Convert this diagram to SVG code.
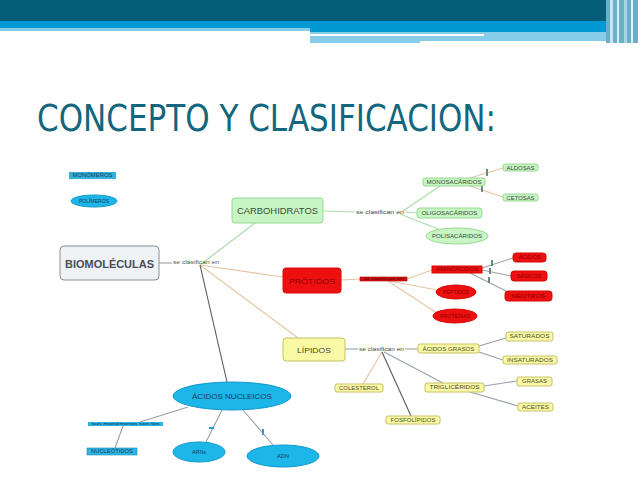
<svg xmlns="http://www.w3.org/2000/svg" width="638" height="479" viewBox="0 0 638 479">
<style>
.t{font-family:"Liberation Sans",Arial,sans-serif;text-anchor:middle;dominant-baseline:central}
.g{fill:#c8f5c4;stroke:#98d894;stroke-width:1}
.r{fill:#ee1010;stroke:#d80808;stroke-width:1}
.y{fill:#fafaa6;stroke:#c6c266;stroke-width:1}
.b{fill:#1cb6e8;stroke:#1599cc;stroke-width:1}
.tg{fill:#3a4a3a}
.tr{fill:#8a0000}
.ty{fill:#4a4a2a}
.tb{fill:#1a3a5a}
.lg{stroke:#acdca8;stroke-width:1.2;fill:none}
.lt{stroke:#e6c6a6;stroke-width:1.2;fill:none}
.lk{stroke:#9aa0a8;stroke-width:1.1;fill:none}
.ld{stroke:#555a60;stroke-width:1.1;fill:none}
.mk{fill:#6c8a80}
.mb{fill:#2a9ad0}
</style>
<rect width="638" height="479" fill="#ffffff"/>
<g id="header">
<rect x="0" y="0" width="638" height="21" fill="#045e78"/>
<rect x="0" y="21" width="638" height="7" fill="#0099d4"/>
<rect x="0" y="28" width="310" height="3" fill="#84cce8"/>
<rect x="310" y="28" width="300" height="4" fill="#0099d4"/>
<rect x="310" y="32" width="300" height="11" fill="#86cde9"/>
<rect x="310" y="34" width="174" height="2" fill="#ffffff"/>
<rect x="420" y="41" width="190" height="2" fill="#ffffff"/>
<rect x="606" y="0" width="32" height="43" fill="#6aaec8"/>
<rect x="610" y="0" width="3" height="43" fill="#c8e4f0"/>
<rect x="617" y="0" width="2" height="43" fill="#d8eef6"/>
<rect x="624" y="0" width="3" height="43" fill="#a8d4e8"/>
<rect x="631" y="0" width="2" height="43" fill="#e0f0f8"/>
</g>
<text x="37" y="131" font-family="'DejaVu Sans Condensed','Liberation Sans',sans-serif" font-size="38" fill="#13667e" textLength="459" lengthAdjust="spacingAndGlyphs">CONCEPTO Y CLASIFICACION:</text>

<g id="connectors">
<!-- main -->
<line class="lk" x1="159" y1="263" x2="172" y2="263"/>
<line class="lg" x1="200" y1="265" x2="255" y2="223"/>
<line class="lt" x1="200" y1="265" x2="283" y2="277"/>
<line class="lt" x1="200" y1="265" x2="298" y2="338"/>
<line class="ld" x1="200" y1="265" x2="227" y2="382"/>
<!-- carbohidratos -->
<line class="lg" x1="323" y1="211" x2="355" y2="212"/>
<line class="lg" x1="403" y1="211" x2="440" y2="186"/>
<line class="lg" x1="405" y1="212" x2="417" y2="213"/>
<line class="lg" x1="400" y1="214" x2="438" y2="229"/>
<line class="lt" x1="470" y1="178" x2="503" y2="168"/>
<line class="lt" x1="470" y1="186" x2="503" y2="197"/>
<rect class="mk" x="486" y="169" width="2" height="7"/>
<rect class="mk" x="481" y="185" width="2" height="7"/>
<!-- protidos -->
<line class="lt" x1="341" y1="280" x2="360" y2="279"/>
<line class="lt" x1="407" y1="279" x2="432" y2="270"/>
<line class="lt" x1="390" y1="281" x2="437" y2="290"/>
<line class="lt" x1="388" y1="281" x2="437" y2="313"/>
<line class="lk" x1="482" y1="268" x2="513" y2="258"/>
<line class="lk" x1="482" y1="270" x2="511" y2="276"/>
<line class="lk" x1="470" y1="273" x2="508" y2="292"/>
<rect class="mk" x="491" y="260" width="2" height="6"/>
<rect class="mk" x="489" y="268" width="2" height="6"/>
<rect class="mk" x="488" y="277" width="2" height="6"/>
<!-- lipidos -->
<line class="lk" x1="345" y1="349" x2="358" y2="349"/>
<line class="lk" x1="405" y1="349" x2="418" y2="349"/>
<line class="lt" x1="382" y1="352" x2="363" y2="384"/>
<line class="ld" x1="382" y1="352" x2="411" y2="416"/>
<line class="lk" x1="384" y1="352" x2="443" y2="383"/>
<line class="lk" x1="479" y1="346" x2="506" y2="338"/>
<line class="lk" x1="479" y1="352" x2="503" y2="360"/>
<line class="lk" x1="484" y1="386" x2="517" y2="381"/>
<line class="lk" x1="470" y1="392" x2="518" y2="406"/>
<!-- acidos nucleicos -->
<line class="lk" x1="188" y1="407" x2="140" y2="422"/>
<line class="lk" x1="123" y1="426" x2="115" y2="448"/>
<line class="lk" x1="222" y1="410" x2="206" y2="442"/>
<line class="lk" x1="243" y1="410" x2="273" y2="445"/>
<rect class="mb" x="209" y="427" width="5" height="2"/>
<rect class="mb" x="262" y="429" width="2" height="6"/>
</g>

<g id="monomeros"><rect x="69" y="172" width="47" height="7" fill="#32b2da"/><text class="t tb" x="92.5" y="175.5" font-size="4.5" textLength="40" lengthAdjust="spacingAndGlyphs">MONÓMEROS</text></g>
<g id="polimeros"><ellipse class="b" cx="94" cy="201" rx="23" ry="6"/><text class="t tb" x="94" y="201" font-size="4.5" textLength="30" lengthAdjust="spacingAndGlyphs">POLÍMEROS</text></g>

<g id="biomoleculas"><rect x="60" y="246" width="99" height="34" rx="4" fill="#eef2f5" stroke="#8a9096" stroke-width="1"/><text class="t" x="109.5" y="263.5" font-size="11" font-weight="bold" fill="#4a4e52" textLength="89" lengthAdjust="spacingAndGlyphs">BIOMOLÉCULAS</text></g>
<g id="lbl-main"><text class="t" x="196" y="262" font-size="5.5" fill="#555" textLength="46" lengthAdjust="spacingAndGlyphs">se clasifican en</text></g>

<g id="carbohidratos"><rect class="g" x="232" y="198" width="91" height="25" rx="3"/><text class="t tg" x="277.5" y="211" font-size="9" textLength="81" lengthAdjust="spacingAndGlyphs">CARBOHIDRATOS</text></g>
<g id="lbl-carbo"><text class="t tg" x="380" y="212" font-size="5.5" textLength="48" lengthAdjust="spacingAndGlyphs">se clasifican en</text></g>
<g id="monosacaridos"><rect class="g" x="423" y="178" width="62" height="8" rx="2"/><text class="t tg" x="454" y="182.3" font-size="5" textLength="55" lengthAdjust="spacingAndGlyphs">MONOSACÁRIDOS</text></g>
<g id="oligosacaridos"><rect class="g" x="417" y="208" width="65" height="10" rx="3"/><text class="t tg" x="449.5" y="213.3" font-size="5" textLength="56" lengthAdjust="spacingAndGlyphs">OLIGOSACÁRIDOS</text></g>
<g id="polisacaridos"><ellipse class="g" cx="457" cy="236" rx="31" ry="8"/><text class="t tg" x="457" y="236.3" font-size="5" textLength="50" lengthAdjust="spacingAndGlyphs">POLISACÁRIDOS</text></g>
<g id="aldosas"><rect class="g" x="503" y="164" width="35" height="7" rx="2"/><text class="t tg" x="520.5" y="167.8" font-size="5" textLength="28" lengthAdjust="spacingAndGlyphs">ALDOSAS</text></g>
<g id="cetosas"><rect class="g" x="503" y="194" width="35" height="7" rx="2"/><text class="t tg" x="520.5" y="197.8" font-size="5" textLength="28" lengthAdjust="spacingAndGlyphs">CETOSAS</text></g>

<g id="protidos"><rect class="r" x="283" y="268" width="58" height="25" rx="3"/><text class="t tr" x="312" y="281" font-size="8" textLength="46" lengthAdjust="spacingAndGlyphs">PRÓTIDOS</text></g>
<g id="lbl-prot"><rect x="360" y="277" width="47" height="4" fill="#d81010" stroke="#a40000" stroke-width="0.6"/><text class="t" x="383.5" y="279.2" font-size="3.5" fill="#4a0000" textLength="40" lengthAdjust="spacingAndGlyphs">se clasifican en</text></g>
<g id="aminoacidos"><rect class="r" x="432" y="266" width="50" height="7"/><text class="t tr" x="457" y="269.7" font-size="4.5" textLength="42" lengthAdjust="spacingAndGlyphs">AMINOÁCIDOS</text></g>
<g id="peptidos"><ellipse class="r" cx="456" cy="292" rx="20" ry="7"/><text class="t tr" x="456" y="292.3" font-size="4.5" textLength="26" lengthAdjust="spacingAndGlyphs">PÉPTIDOS</text></g>
<g id="proteinas"><ellipse class="r" cx="455" cy="316" rx="22" ry="7"/><text class="t tr" x="455" y="316.3" font-size="4.5" textLength="30" lengthAdjust="spacingAndGlyphs">PROTEÍNAS</text></g>
<g id="acidos"><rect class="r" x="513" y="253" width="33" height="9" rx="3"/><text class="t tr" x="529.5" y="257.8" font-size="4.5" textLength="22" lengthAdjust="spacingAndGlyphs">ÁCIDOS</text></g>
<g id="basicos"><rect class="r" x="511" y="271" width="36" height="10" rx="3"/><text class="t tr" x="529" y="276.3" font-size="4.5" textLength="24" lengthAdjust="spacingAndGlyphs">BÁSICOS</text></g>
<g id="neutros"><rect class="r" x="505" y="291" width="47" height="10" rx="3"/><text class="t tr" x="528.5" y="296.3" font-size="4.5" textLength="34" lengthAdjust="spacingAndGlyphs">NEUTROS</text></g>

<g id="lipidos"><rect class="y" x="283" y="338" width="62" height="23" rx="3"/><text class="t ty" x="314" y="350" font-size="8" textLength="34" lengthAdjust="spacingAndGlyphs">LÍPIDOS</text></g>
<g id="lbl-lip"><text class="t ty" x="381.5" y="349.3" font-size="5" textLength="45" lengthAdjust="spacingAndGlyphs">se clasifican en</text></g>
<g id="acidosgrasos"><rect class="y" x="418" y="344" width="61" height="9" rx="2"/><text class="t ty" x="448.5" y="348.8" font-size="5" textLength="52" lengthAdjust="spacingAndGlyphs">ÁCIDOS GRASOS</text></g>
<g id="saturados"><rect class="y" x="506" y="332" width="47" height="9" rx="2"/><text class="t ty" x="529.5" y="336.8" font-size="4.5" textLength="40" lengthAdjust="spacingAndGlyphs">SATURADOS</text></g>
<g id="insaturados"><rect class="y" x="503" y="356" width="54" height="8" rx="2"/><text class="t ty" x="530" y="360.3" font-size="4.5" textLength="46" lengthAdjust="spacingAndGlyphs">INSATURADOS</text></g>
<g id="colesterol"><rect class="y" x="335" y="384" width="48" height="8" rx="2"/><text class="t ty" x="359" y="388.3" font-size="4.5" textLength="40" lengthAdjust="spacingAndGlyphs">COLESTEROL</text></g>
<g id="trigliceridos"><rect class="y" x="425" y="383" width="59" height="9" rx="2"/><text class="t ty" x="454.5" y="387.8" font-size="4.5" textLength="50" lengthAdjust="spacingAndGlyphs">TRIGLICÉRIDOS</text></g>
<g id="grasas"><rect class="y" x="517" y="377" width="35" height="9" rx="2"/><text class="t ty" x="534.5" y="381.8" font-size="4.5" textLength="25" lengthAdjust="spacingAndGlyphs">GRASAS</text></g>
<g id="aceites"><rect class="y" x="518" y="403" width="35" height="8" rx="2"/><text class="t ty" x="535.5" y="407.3" font-size="4.5" textLength="27" lengthAdjust="spacingAndGlyphs">ACEITES</text></g>
<g id="fosfolipidos"><rect class="y" x="386" y="416" width="54" height="8" rx="2"/><text class="t ty" x="413" y="420.3" font-size="4.5" textLength="45" lengthAdjust="spacingAndGlyphs">FOSFOLÍPIDOS</text></g>

<g id="acidosnucleicos"><ellipse class="b" cx="232" cy="396" rx="59" ry="14"/><text class="t tb" x="232" y="396.5" font-size="7.5" textLength="80" lengthAdjust="spacingAndGlyphs">ÁCIDOS NUCLEICOS</text></g>
<g id="lbl-nuc"><rect x="88" y="422" width="75" height="4" fill="#2eb4e2"/><text class="t" x="125.5" y="424.2" font-size="3.5" fill="#103050" textLength="68" lengthAdjust="spacingAndGlyphs">sus monómeros son los</text></g>
<g id="nucleotidos"><rect x="87" y="448" width="50" height="7" fill="#2eb4e2" stroke="#1590c0" stroke-width="0.6"/><text class="t tb" x="112" y="451.7" font-size="4.5" textLength="42" lengthAdjust="spacingAndGlyphs">NUCLEÓTIDOS</text></g>
<g id="arns"><ellipse class="b" cx="199" cy="452" rx="26" ry="10"/><text class="t tb" x="199" y="452.3" font-size="4.5" textLength="14" lengthAdjust="spacingAndGlyphs">ARNs</text></g>
<g id="adn"><ellipse class="b" cx="283" cy="456" rx="36" ry="11"/><text class="t tb" x="283" y="456.3" font-size="4.5" textLength="12" lengthAdjust="spacingAndGlyphs">ADN</text></g>
</svg>
